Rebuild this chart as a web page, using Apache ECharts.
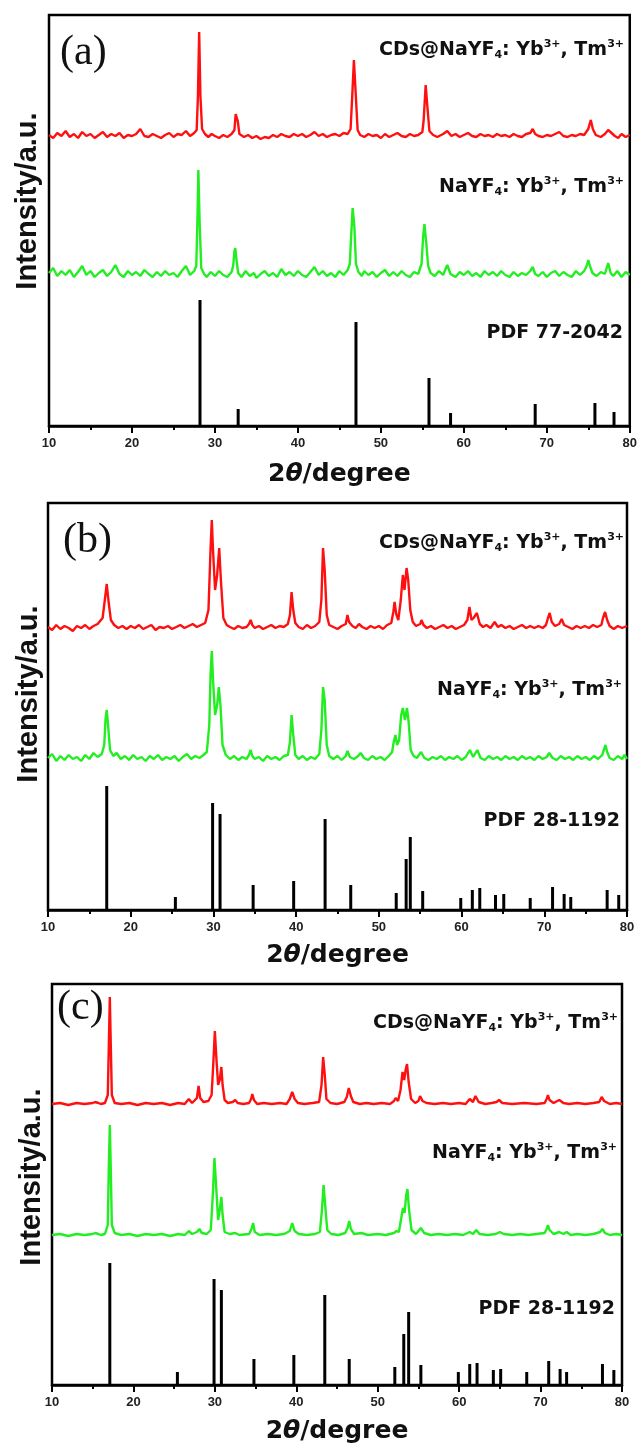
<!DOCTYPE html>
<html><head><meta charset="utf-8">
<script src="https://cdn.jsdelivr.net/npm/echarts@6/dist/echarts.min.js"></script>
<style>html,body{margin:0;padding:0;background:#fff}#chart{width:640px;height:1448px}</style>
</head><body><div id="chart"></div>
<script>
// ---- data (2θ in degrees, intensity in a.u.) ----
const xTickValues = [10, 20, 30, 40, 50, 60, 70, 80];
const panelTags = ['(a)', '(b)', '(c)'];
const pdfNames = ['PDF 77-2042', 'PDF 28-1192', 'PDF 28-1192'];
const yTitle = 'Intensity/a.u.';

// Panel (a)
const redA = [[10,291],[10.5,288],[11,293],[11.5,290],[12,295],[12.5,289],[13,292],[13.5,288],[14,294],[14.5,290],[15,292],[15.5,288],[16,291],[16.5,294],[17,289],[17.5,292],[18,290],[18.5,293],[19,288],[19.5,291],[20,290],[20.5,292],[21,297],[21.5,290],[22,289],[22.5,292],[23,290],[23.5,288],[24,291],[24.5,293],[25,289],[25.5,292],[26,291],[26.5,295],[27,290],[27.5,293],
[27.8,296],[27.95,330],[28.1,394],[28.25,330],[28.45,297],[28.8,292],[29.2,289],[29.6,292],[30,290],[30.5,288],[31,291],[31.5,289],[32,292],
[32.35,296],[32.5,312],[32.6,314],[32.75,305],[32.95,292],[33.5,289],[34,291],[34.5,288],[35,290],[35.5,287],[36,289],[36.5,288],[37,291],[37.5,289],[38,292],[38.5,290],[39,289],[39.5,292],[40,290],[40.5,292],[41,289],[41.5,291],[42,294],[42.5,290],[43,292],[43.5,289],[44,291],[44.5,292],[45,290],[45.5,293],[46,292],
[46.35,297],[46.55,330],[46.75,366],[46.95,335],[47.2,296],[47.5,291],[48,289],[48.5,292],[49,290],[49.5,291],[50,288],[50.5,292],[51,289],[51.5,291],[52,293],[52.5,290],[53,289],[53.5,292],[54,290],[54.5,291],[55,294],
[55.15,305],[55.4,341],[55.6,320],[55.85,295],[56.3,291],[56.8,289],[57.5,292],[58,295],[58.5,290],[59,292],[59.5,289],[60,291],[60.5,293],[61,290],[61.5,289],[62,292],[62.5,290],[63,291],[63.5,289],[64,292],[64.5,290],[65,291],[65.5,289],[66,292],[66.5,290],[67,289],[67.5,292],[68,293],[68.3,297],[68.6,292],[69,290],[69.5,289],[70,291],[70.5,290],[71,292],[71.5,294],[72,290],[72.5,289],[73,291],[73.5,290],[74,292],[74.5,291],[75,297],[75.3,306],[75.55,297],[75.9,291],[76.5,289],[77,292],[77.4,296],[77.8,293],[78.2,290],[78.6,288],[79,292],[79.5,289],[80,291]];
const greenA = [[10,153],[10.5,158],[11,150],[11.5,155],[12,151],[12.5,156],[13,149],[13.5,154],[14,160],[14.5,151],[15,155],[15.5,149],[16,153],[16.5,156],[17,150],[17.5,154],[18,161],[18.5,152],[19,149],[19.5,155],[20,151],[20.5,154],[21,150],[21.5,156],[22,152],[22.5,149],[23,154],[23.5,150],[24,155],[24.5,151],[25,153],[25.5,149],[26,155],[26.5,160],[27,151],[27.5,155],
[27.75,160],[27.9,210],[28.0,256],[28.15,205],[28.35,158],[28.7,152],[29,149],[29.5,154],[30,150],[30.5,155],[31,151],[31.5,149],[32,154],
[32.2,160],[32.35,175],[32.45,178],[32.6,166],[32.8,153],[33.2,149],[33.7,155],[34.2,150],[34.7,153],[35,148],[35.5,152],[36,155],[36.5,150],[37,153],[37.5,149],[38,157],[38.5,151],[39,154],[39.5,150],[40,155],[40.5,151],[41,149],[41.5,154],[42,159],[42.5,151],[43,155],[43.5,150],[44,153],[44.5,149],[45,155],[45.5,151],[46,156],
[46.25,162],[46.45,195],[46.6,218],[46.8,200],[47.0,162],[47.3,154],[47.7,150],[48,155],[48.5,151],[49,154],[49.5,149],[50,153],[50.5,156],[51,150],[51.5,154],[52,150],[52.5,155],[53,151],[53.5,149],[54,154],[54.5,152],
[54.9,162],[55.1,190],[55.25,202],[55.45,185],[55.7,160],[56,153],[56.5,150],[57,155],[57.5,151],[58,161],[58.4,152],[59,149],[59.5,154],[60,151],[60.5,155],[61,150],[61.5,153],[62,149],[62.5,155],[63,151],[63.5,154],[64,150],[64.5,155],[65,151],[65.5,149],[66,154],[66.5,150],[67,153],[67.5,151],[68,155],[68.3,159],[68.6,152],[69,150],[69.5,154],[70,149],[70.5,153],[71,155],[71.5,150],[72,154],[72.5,151],[73,149],[73.5,155],[74,151],[74.5,155],[74.8,160],[75.0,166],[75.2,160],[75.5,153],[76,150],[76.5,154],[77,152],[77.4,163],[77.7,153],[78,150],[78.5,155],[79,149],[79.5,154],[80,151]];
const pdfA = [[28.2,126],[32.8,17],[47.0,104],[55.8,48],[58.4,13],[68.6,22],[75.8,23],[78.1,14]];

// Panel (b)
const redB = [[10,283],[10.5,280],[11,285],[11.5,281],[12,284],[12.5,282],[13,279],[13.5,284],[14,282],[14.5,285],[15,281],[15.5,284],[16,286],
[16.6,292],[16.9,312],[17.1,326],[17.3,310],[17.6,290],[18,285],[18.5,282],[19,284],[19.5,281],[20,284],[20.5,282],[21,285],[21.5,281],[22,283],[22.5,285],[23,280],[23.5,283],[24,282],[24.5,284],[25,281],[25.5,283],[26,285],[26.5,282],[27,284],[27.5,286],[28,283],[28.5,285],[29,287],
[29.4,300],[29.65,360],[29.8,390],[29.95,360],[30.2,320],[30.45,335],[30.7,362],[30.9,330],[31.2,292],[31.6,285],[32,283],[32.5,281],[33,284],[33.5,282],[34,283],[34.3,286],[34.5,290],[34.7,285],[35,282],[35.5,284],[36,281],[36.5,283],[37,285],[37.5,282],[38,284],[38.5,283],[39,286],
[39.25,295],[39.45,318],[39.65,300],[39.9,287],[40.3,283],[40.8,281],[41.3,285],[41.8,282],[42.3,284],[42.8,288],
[43.05,310],[43.25,362],[43.45,340],[43.7,295],[44,285],[44.5,283],[45,281],[45.5,284],[46,286],[46.2,295],[46.4,288],[46.8,284],[47.2,282],[47.6,286],[48,283],[48.5,281],[49,284],[49.5,282],[50,284],[50.5,281],[51,285],[51.5,287],
[51.75,298],[51.9,308],[52.1,296],[52.35,290],[52.65,310],[52.9,335],[53.1,320],[53.35,342],[53.55,330],[53.8,300],[54.1,288],[54.5,284],[55,286],[55.15,290],[55.4,285],[55.8,282],[56.3,284],[56.8,281],[57.3,283],[57.8,285],[58.3,282],[58.8,284],[59.3,281],[59.8,283],[60.3,285],[60.7,290],
[60.95,303],[61.2,290],[61.45,292],[61.85,297],[62.2,286],[62.6,283],[63,285],[63.5,282],[64,288],[64.4,283],[64.8,285],[65.3,282],[65.8,284],[66.3,281],[66.8,283],[67.3,285],[67.8,282],[68.3,284],[68.8,282],[69.3,284],[69.8,282],[70.2,285],[70.45,292],[70.65,297],[70.9,288],[71.3,284],[71.8,286],[72.1,291],[72.4,285],[72.9,283],[73.4,281],[73.9,284],[74.4,282],[74.9,284],[75.4,282],[75.9,285],[76.4,283],[76.9,285],[77.1,292],[77.35,298],[77.6,290],[77.9,284],[78.4,281],[78.9,284],[79.4,282],[80,284]];
const greenB = [[10,152],[10.5,156],[11,149],[11.5,154],[12,150],[12.5,155],[13,151],[13.5,153],[14,149],[14.5,155],[15,151],[15.5,157],[16,153],[16.5,156],
[16.8,165],[16.95,190],[17.1,200],[17.25,186],[17.5,160],[17.9,154],[18.3,157],[18.8,151],[19.3,154],[19.8,150],[20.3,155],[20.8,151],[21.3,153],[21.8,149],[22.3,154],[22.8,151],[23.3,155],[23.8,150],[24.3,153],[24.8,151],[25.3,154],[25.8,149],[26.3,153],[26.8,156],[27.3,151],[27.8,154],[28.3,152],[28.8,155],[29.2,158],
[29.5,185],[29.65,235],[29.8,259],[29.95,230],[30.2,195],[30.45,205],[30.65,223],[30.85,205],[31.1,165],[31.5,155],[32,151],[32.5,154],[33,150],[33.5,153],[34,151],[34.3,155],[34.5,160],[34.7,154],[35,151],[35.5,153],[36,149],[36.5,154],[37,151],[37.5,153],[38,150],[38.5,154],[39,155],
[39.25,168],[39.45,195],[39.65,175],[39.9,155],[40.3,151],[40.8,154],[41.3,150],[41.8,153],[42.3,151],[42.8,156],
[43.05,180],[43.25,223],[43.45,210],[43.7,165],[44,154],[44.5,151],[45,154],[45.5,150],[46,154],[46.2,159],[46.5,153],[47,151],[47.5,154],[47.8,157],[48.2,152],[48.7,150],[49.2,154],[49.7,151],[50.2,153],[50.7,150],[51.2,154],[51.6,158],
[51.8,168],[52.0,175],[52.2,165],[52.45,170],[52.7,195],[52.9,202],[53.15,190],[53.4,202],[53.6,188],[53.85,160],[54.2,154],[54.6,152],[55.1,158],[55.5,152],[56,150],[56.5,153],[57,151],[57.5,154],[58,150],[58.5,153],[59,151],[59.5,154],[60,150],[60.5,153],[61.0,160],[61.4,153],[61.9,160],[62.3,152],[62.8,150],[63.3,154],[63.8,151],[64.3,153],[64.8,150],[65.3,154],[65.8,151],[66.3,153],[66.8,150],[67.3,154],[67.8,151],[68.3,153],[68.8,150],[69.3,154],[69.8,151],[70.3,153],[70.6,157],[71,152],[71.5,150],[72,154],[72.5,151],[73,153],[73.5,150],[74,154],[74.5,151],[75,153],[75.5,150],[76,154],[76.5,151],[77,155],[77.2,160],[77.4,165],[77.6,158],[77.9,152],[78.4,150],[78.9,154],[79.4,151],[79.7,155],[80,151]];
const pdfB = [[17.1,124],[25.4,13],[29.9,107],[30.8,96],[34.8,25],[39.7,29],[43.5,91],[46.6,25],[52.1,17],[53.3,51],[53.8,73],[55.3,19],[59.9,12],[61.3,20],[62.2,22],[64.1,15],[65.1,16],[68.3,12],[71.0,23],[72.4,16],[73.2,13],[77.6,20],[79.0,15]];

// Panel (c)
const redC = [[10,281],[11,282],[12,280],[13,282],[14,281],[15,282],[15.3,283],[15.5,285],[15.7,282],[16,281],[16.5,282],
[16.85,290],[16.98,340],[17.1,388],[17.22,340],[17.35,290],[17.7,282],[18.5,281],[19.5,282],[20.5,280],[21.5,282],[22.5,281],[23.5,282],[24.5,280],[25.5,282],[26.3,281],[26.8,286],[27.2,282],
[27.8,287],[28.0,299],[28.2,287],[28.6,283],[29.2,284],[29.6,290],
[29.8,320],[30.0,354],[30.2,325],[30.4,300],[30.6,305],[30.8,318],[30.95,300],[31.2,285],[31.6,282],[32.2,283],[32.5,285],[32.8,282],[33.5,281],[34.2,282],[34.45,286],[34.6,291],[34.8,285],[35.2,281],[36,282],[37,281],[38,282],[38.8,281],[39.2,286],[39.5,293],[39.8,286],[40.2,282],[41,281],[42,282],[42.8,283],
[43.1,300],[43.3,328],[43.5,310],[43.7,286],[44.2,282],[45,281],[45.9,283],[46.2,288],[46.45,297],[46.7,289],[47,283],[47.8,281],[48.6,282],[49.5,281],[50.5,282],[51.5,281],[52,284],[52.2,287],[52.5,284],
[52.8,295],[53.05,313],[53.25,305],[53.45,316],[53.6,321],[53.8,303],[54.1,286],[54.6,282],[55.0,284],[55.2,289],[55.5,284],[56,282],[57,281],[58,282],[59,281],[60,282],[60.8,281],[61.3,286],[61.7,283],[62.0,289],[62.4,283],[63.2,281],[64,282],[64.6,283],[64.9,285],[65.3,282],[66.5,281],[68,282],[69.5,281],[70.5,282],[70.75,286],[70.9,290],[71.1,285],[71.6,282],[72.3,285],[72.8,282],[73.5,281],[74.5,282],[75.5,281],[76.5,282],[77.2,283],[77.5,288],[77.8,284],[78.5,281],[79.3,282],[80,281]];
const greenC = [[10,150],[11,151],[12,149],[13,151],[14,150],[15,151],[15.3,152],[15.5,153],[15.7,151],[16,150],[16.5,151],
[16.85,160],[16.98,220],[17.1,260],[17.22,215],[17.35,160],[17.7,152],[18.5,150],[19.5,151],[20.5,149],[21.5,151],[22.5,150],[23.5,151],[24.5,149],[25.5,151],[26.3,150],[26.8,154],[27.2,151],[27.8,153],[28.1,156],[28.4,152],[29.0,151],[29.5,155],
[29.75,190],[29.95,227],[30.15,200],[30.4,165],[30.6,175],[30.8,188],[30.95,170],[31.2,153],[31.8,151],[32.5,152],[33,150],[34.2,151],[34.5,156],[34.7,162],[34.9,153],[35.5,150],[36.5,151],[37.5,150],[38.5,151],[39.2,154],[39.5,162],[39.8,154],[40.3,151],[41.3,150],[42.3,151],[42.9,153],
[43.15,175],[43.35,200],[43.55,180],[43.8,155],[44.3,151],[45.2,150],[46,152],[46.3,157],[46.5,164],[46.7,156],[47.1,151],[48,152],[48.8,150],[50,151],[51,150],[52,152],[52.3,154],[52.6,153],
[52.85,165],[53.1,177],[53.3,172],[53.5,190],[53.65,196],[53.85,175],[54.15,155],[54.7,151],[55.3,157],[55.7,152],[56.5,150],[57.5,151],[58.5,150],[59.5,151],[60.5,150],[61.3,153],[61.7,151],[62.1,155],[62.5,151],[63.5,150],[64.5,151],[65.0,153],[65.5,151],[66.5,150],[67.5,151],[68.5,150],[69.5,151],[70.5,152],[70.75,156],[70.9,160],[71.1,155],[71.6,151],[72.3,153],[72.8,151],[73.2,153],[73.7,150],[74.5,151],[75.5,150],[76.5,151],[77.3,153],[77.6,156],[77.9,152],[78.5,150],[79.3,151],[80,150]];
const pdfC = [[17.1,122],[25.4,13],[29.9,106],[30.8,95],[34.8,26],[39.7,30],[43.5,90],[46.5,26],[52.1,18],[53.2,51],[53.8,73],[55.3,20],[59.9,13],[61.3,21],[62.2,22],[64.2,15],[65.1,16],[68.3,13],[71.0,24],[72.4,16],[73.2,13],[77.6,21],[79.0,15]];

// ---- layout ----
const panels = [
  {grid:{left:49, top:15, width:582, height:411}, yMax:411, red:redA, green:greenA, pdf:pdfA,
   tag:{x:60, y:53}, yt:{x:28, y:201}, right:[624, 624, 623], ly:[50, 187, 333], gap:36},
  {grid:{left:48, top:503, width:579, height:407}, yMax:407, red:redB, green:greenB, pdf:pdfB,
   tag:{x:63, y:541}, yt:{x:28.5, y:694}, right:[624, 622, 620], ly:[543, 690, 821], gap:33},
  {grid:{left:52, top:984, width:570, height:401}, yMax:401, red:redC, green:greenC, pdf:pdfC,
   tag:{x:57, y:1008}, yt:{x:31.5, y:1177}, right:[618, 617, 615], ly:[1023, 1153, 1309], gap:34}
];

const INK = '#111';
const richLbl = {
  b: {fontFamily:'DejaVu Sans', fontWeight:'bold', fontSize:19, lineHeight:22, fill:INK, color:INK},
  s: {fontFamily:'DejaVu Sans', fontWeight:'bold', fontSize:11, lineHeight:17, verticalAlign:'bottom', fill:INK, color:INK},
  p: {fontFamily:'DejaVu Sans', fontWeight:'bold', fontSize:11, verticalAlign:'top', fill:INK, color:INK}
};
const cdsText = '{b|CDs@NaYF}{s|4}{b|: Yb}{p|3+}{b|, Tm}{p|3+}';
const nyfText = '{b|NaYF}{s|4}{b|: Yb}{p|3+}{b|, Tm}{p|3+}';

const grids = [], xAxes = [], yAxes = [], series = [], graphics = [];
panels.forEach((p, i) => {
  grids.push(Object.assign({show:true, borderColor:'#000', borderWidth:2.5, backgroundColor:'#fff'}, p.grid));
  xAxes.push({
    gridIndex:i, type:'value', min:xTickValues[0], max:xTickValues[xTickValues.length-1], interval:10,
    axisLine:{show:true, onZero:false, lineStyle:{color:'#000', width:2.5}},
    axisTick:{show:true, inside:false, length:7, lineStyle:{color:'#000', width:2}},
    minorTick:{show:true, splitNumber:2, length:4, lineStyle:{color:'#000', width:2}},
    splitLine:{show:false},
    axisLabel:{margin:11, fontFamily:'Liberation Sans', fontWeight:'bold', fontSize:13, color:'#222'},
    name:'{n|2}{i|θ}{n|/degree}', nameLocation:'middle', nameGap:p.gap,
    nameTextStyle:{rich:{
      n:{fontFamily:'DejaVu Sans', fontWeight:'bold', fontSize:25, color:INK},
      i:{fontFamily:'DejaVu Sans', fontWeight:'bold', fontStyle:'italic', fontSize:25, color:INK}
    }}
  });
  yAxes.push({gridIndex:i, type:'value', min:0, max:p.yMax, show:false, splitLine:{show:false}});
  series.push({type:'line', xAxisIndex:i, yAxisIndex:i, data:p.red, symbol:'none', silent:true,
    lineStyle:{color:'#ff1010', width:2.4}, z:3});
  series.push({type:'line', xAxisIndex:i, yAxisIndex:i, data:p.green, symbol:'none', silent:true,
    lineStyle:{color:'#22ee22', width:2.4}, z:3});
  series.push({type:'bar', xAxisIndex:i, yAxisIndex:i, data:p.pdf, barWidth:3, silent:true,
    itemStyle:{color:'#000'}, z:2});

  graphics.push({type:'text', x:p.tag.x, y:p.tag.y, style:{text:panelTags[i], fontFamily:'Liberation Serif',
    fontSize:42, fill:INK, align:'left', verticalAlign:'middle'}});
  graphics.push({type:'text', x:p.yt.x, y:p.yt.y, rotation:Math.PI/2, style:{text:yTitle,
    fontFamily:'Liberation Sans', fontWeight:'bold', fontSize:29, fill:INK, align:'center', verticalAlign:'middle'}});
  graphics.push({type:'text', x:p.right[0], y:p.ly[0], style:{text:cdsText, rich:richLbl, align:'right', verticalAlign:'middle'}});
  graphics.push({type:'text', x:p.right[1], y:p.ly[1], style:{text:nyfText, rich:richLbl, align:'right', verticalAlign:'middle'}});
  graphics.push({type:'text', x:p.right[2], y:p.ly[2], style:{text:pdfNames[i], fontFamily:'DejaVu Sans',
    fontWeight:'bold', fontSize:19, fill:INK, align:'right', verticalAlign:'middle'}});
});

const chart = echarts.init(document.getElementById('chart'), null, {renderer:'canvas'});
chart.setOption({
  animation:false,
  backgroundColor:'#fff',
  grid:grids, xAxis:xAxes, yAxis:yAxes, series:series,
  graphic:{elements:graphics}
});
</script></body></html>
